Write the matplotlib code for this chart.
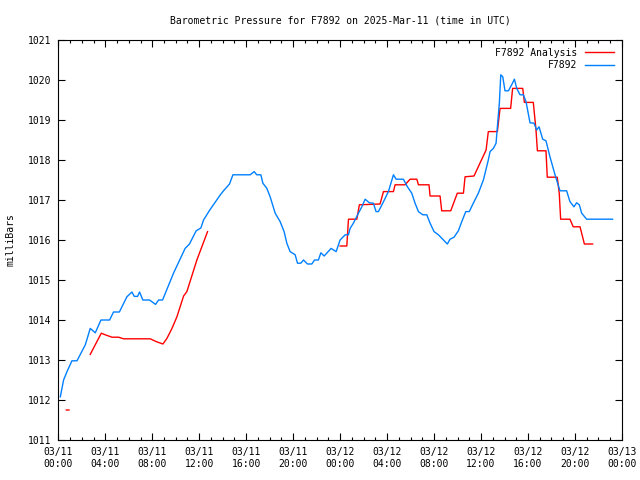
import numpy as np
import matplotlib
matplotlib.use('Agg')
import matplotlib.pyplot as plt

# hours since 2025-03-11 00:00 UTC
obs_hours = [0.17, 0.45, 0.74, 1.16, 1.59, 2.3, 2.72, 3.15, 3.63, 4.37, 4.7, 5.2,
             5.84, 6.27, 6.47, 6.75, 6.92, 7.2, 7.77, 8.28, 8.54, 8.88, 9.81, 10.8,
             11.17, 11.74, 12.14, 12.37, 12.9, 13.8, 14.07, 14.58, 14.87, 16.34,
             16.68, 16.9, 17.25, 17.42, 17.76, 18.04, 18.47, 18.89, 19.23, 19.46,
             19.74, 20.17, 20.37, 20.65, 20.88, 21.22, 21.59, 21.82, 22.15, 22.36,
             22.64, 23.23, 23.66, 24.0, 24.43, 24.71, 24.85, 25.13, 25.56, 25.85,
             26.13, 26.49, 26.83, 27.06, 27.26, 27.63, 28.11, 28.54, 28.77, 29.39,
             29.73, 30.1, 30.38, 30.67, 31.04, 31.38, 31.66, 32.0, 32.37, 32.8,
             33.13, 33.36, 33.7, 34.07, 34.36, 34.7, 35.0, 35.34, 35.77, 36.2,
             36.62, 36.77, 37.05, 37.28, 37.39, 37.56, 37.68, 37.85, 38.04, 38.33,
             38.61, 38.84, 39.04, 39.32, 39.6, 39.83, 40.17, 40.51, 40.74, 40.94,
             41.25, 41.53, 41.87, 42.3, 42.72, 43.29, 43.57, 43.91, 44.14, 44.37,
             44.57, 44.99, 47.2]
obs_press = [1012.08, 1012.5, 1012.71, 1012.98, 1012.98, 1013.38, 1013.79, 1013.68,
             1014.0, 1014.0, 1014.2, 1014.2, 1014.58, 1014.7, 1014.59, 1014.59,
             1014.7, 1014.5, 1014.5, 1014.39, 1014.5, 1014.5, 1015.17, 1015.79,
             1015.9, 1016.23, 1016.3, 1016.5, 1016.75, 1017.13, 1017.23, 1017.4,
             1017.63, 1017.63, 1017.71, 1017.63, 1017.63, 1017.42, 1017.29, 1017.08,
             1016.67, 1016.46, 1016.21, 1015.92, 1015.71, 1015.63, 1015.42, 1015.42,
             1015.5, 1015.4, 1015.4, 1015.5, 1015.5, 1015.68, 1015.6, 1015.79,
             1015.71, 1016.0, 1016.13, 1016.13, 1016.29, 1016.42, 1016.67, 1016.83,
             1017.02, 1016.93, 1016.92, 1016.71, 1016.71, 1016.92, 1017.21, 1017.63,
             1017.52, 1017.52, 1017.33, 1017.17, 1016.92, 1016.71, 1016.63, 1016.63,
             1016.42, 1016.21, 1016.13, 1016.0, 1015.9, 1016.02, 1016.07, 1016.23,
             1016.46, 1016.71, 1016.71, 1016.92, 1017.17, 1017.5, 1018.0, 1018.21,
             1018.29, 1018.42, 1018.83, 1019.42, 1020.13, 1020.08, 1019.73, 1019.73,
             1019.88, 1020.02, 1019.79, 1019.63, 1019.63, 1019.46, 1018.93, 1018.92,
             1018.75, 1018.83, 1018.52, 1018.48, 1018.08, 1017.63, 1017.23, 1017.23,
             1016.96, 1016.83, 1016.93, 1016.88, 1016.67, 1016.52, 1016.52]

# analysis series, NaN = gap in data
ana_hours = [0.68, 0.91, np.nan, 2.72, 3.66, 4.0, 4.57, 5.13, 5.56, 7.83, 8.34, 8.91,
             9.25, 9.68, 10.1, 10.67, 10.95, 11.8, 12.71, np.nan, 24.0, 24.57, 24.71,
             25.42, 25.64, 27.4, 27.69, 28.54, 28.68, 29.53, 29.96, 30.53, 30.67,
             31.57, 31.66, 32.51, 32.65, 33.42, 33.98, 34.5, 34.64, 35.4, 36.43,
             36.62, 37.39, 37.62, 38.52, 38.69, 39.55, 39.69, 40.45, 40.68, 40.8,
             41.53, 41.64, 42.49, 42.66, 42.78, 43.57, 43.85, 44.43, 44.57, 44.8, 45.5]
ana_press = [1011.75, 1011.75, np.nan, 1013.14, 1013.67, 1013.63, 1013.57, 1013.57,
             1013.53, 1013.53, 1013.46, 1013.4, 1013.54, 1013.79, 1014.08, 1014.6,
             1014.71, 1015.5, 1016.21, np.nan, 1015.85, 1015.85, 1016.52, 1016.52,
             1016.88, 1016.9, 1017.21, 1017.21, 1017.38, 1017.38, 1017.52, 1017.52,
             1017.38, 1017.38, 1017.1, 1017.1, 1016.73, 1016.73, 1017.17, 1017.17,
             1017.58, 1017.6, 1018.25, 1018.71, 1018.71, 1019.29, 1019.29, 1019.79,
             1019.79, 1019.44, 1019.44, 1018.75, 1018.23, 1018.23, 1017.57, 1017.57,
             1017.17, 1016.52, 1016.52, 1016.33, 1016.33, 1016.17, 1015.9, 1015.9]

tick_hours = list(range(0, 49, 4))
tick_labels = ['03/11\n00:00', '03/11\n04:00', '03/11\n08:00', '03/11\n12:00',
               '03/11\n16:00', '03/11\n20:00', '03/12\n00:00', '03/12\n04:00',
               '03/12\n08:00', '03/12\n12:00', '03/12\n16:00', '03/12\n20:00',
               '03/13\n00:00']

plt.rcParams['font.family'] = ['DejaVu Sans Mono']
plt.rcParams['font.size'] = 7

fig = plt.figure(figsize=(6.4, 4.8), dpi=100)
ax = fig.add_axes([0.0911, 0.0833, 0.8807, 0.8334])
ax.plot(ana_hours, ana_press, color='#ff0000', lw=1.0, label='F7892 Analysis')
ax.plot(obs_hours, obs_press, color='#0080ff', lw=1.0, label='F7892')

ax.set_xlim(0, 48)
ax.set_ylim(1011, 1021)
ax.set_xticks(tick_hours)
ax.set_xticklabels(tick_labels)
ax.set_xticks(np.arange(0, 49, 1), minor=True)
ax.set_yticks(np.arange(1011, 1022, 1))
ax.tick_params(which='both', direction='in', top=True, right=True, width=0.8)
ax.tick_params(which='major', length=5, pad=5)
ax.tick_params(which='minor', length=2.5)
ax.tick_params(axis='y', which='minor', left=False, right=False)
for s in ax.spines.values():
    s.set_linewidth(0.8)

ax.set_title('Barometric Pressure for F7892 on 2025-Mar-11 (time in UTC)', fontsize=7, pad=12)
ax.set_ylabel('milliBars', labelpad=9)
ax.legend(loc='upper right', frameon=False, markerfirst=False, handlelength=3,
          borderaxespad=0.3, borderpad=0.5, labelspacing=0.25, handletextpad=0.8)

plt.savefig('out.png', dpi=100)
